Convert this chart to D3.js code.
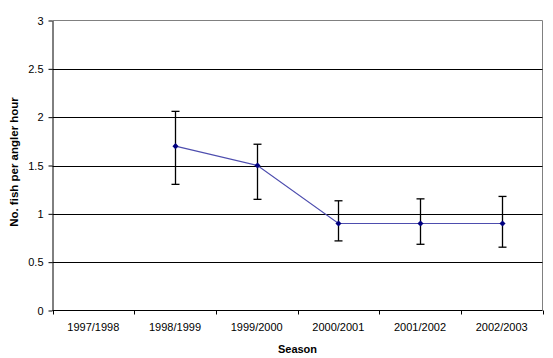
<html>
<head>
  <script src="https://d3js.org/d3.v7.min.js"></script>
  <style>
    body { margin: 0; background: #fff; }
    text { font-family: "Liberation Sans", Arial, sans-serif; }
  </style>
</head>
<body>
  <svg id="chart" width="553" height="358"></svg>
  <script>
    // data
    const seasons = ["1997/1998", "1998/1999", "1999/2000", "2000/2001", "2001/2002", "2002/2003"];
    const fishSeasons = ["1998/1999", "1999/2000", "2000/2001", "2001/2002", "2002/2003"];
    const fishPerHour = [1.7, 1.5, 0.9, 0.9, 0.9];
    const errUpper = [2.06, 1.72, 1.135, 1.155, 1.18];
    const errLower = [1.305, 1.15, 0.72, 0.685, 0.655];
    const yTicks = [0, 0.5, 1, 1.5, 2, 2.5, 3];

    const svg = d3.select("#chart");
    const plot = { left: 52.5, right: 542.5, top: 20.5, bottom: 310.5 };

    const x = d3.scaleBand().domain(seasons).range([plot.left, plot.right]);
    const y = d3.scaleLinear().domain([0, 3]).range([plot.bottom, plot.top]);

    // plot border (grey top & right)
    svg.append("path")
      .attr("d", `M${plot.left},${plot.top}H${plot.right}V${plot.bottom}`)
      .attr("fill", "none")
      .attr("stroke", "#808080")
      .attr("stroke-width", 1);

    // gridlines
    svg.selectAll("line.grid").data(yTicks.filter(d => d > 0 && d < 3))
      .join("line")
      .attr("class", "grid")
      .attr("x1", plot.left).attr("x2", plot.right)
      .attr("y1", d => Math.round(y(d)) + 0.5).attr("y2", d => Math.round(y(d)) + 0.5)
      .attr("stroke", "#000");

    // y axis
    const yAxis = d3.axisLeft(y).tickValues(yTicks).tickSize(4).tickSizeOuter(0)
      .tickFormat(d => String(d));
    const gy = svg.append("g")
      .attr("transform", `translate(${plot.left},0)`)
      .call(yAxis);
    gy.select(".domain").attr("stroke", "#000");
    gy.selectAll("text").attr("font-size", 11).attr("fill", "#000")
      .attr("font-family", "Liberation Sans, Arial, sans-serif").attr("x", -9);

    // x axis
    const gx = svg.append("g")
      .attr("transform", `translate(0,${plot.bottom})`);
    gx.append("line")
      .attr("x1", plot.left).attr("x2", plot.right)
      .attr("stroke", "#000");
    const bounds = seasons.map(s => x(s)).concat([plot.right]);
    gx.selectAll("line.tick").data(bounds)
      .join("line")
      .attr("class", "tick")
      .attr("x1", d => Math.round(d) + 0.5).attr("x2", d => Math.round(d) + 0.5)
      .attr("y1", 0).attr("y2", 4)
      .attr("stroke", "#000");
    gx.selectAll("text").data(seasons)
      .join("text")
      .attr("x", d => x(d) + x.bandwidth() / 2)
      .attr("y", 20)
      .attr("text-anchor", "middle")
      .attr("font-size", 11)
      .text(d => d);

    // axis titles
    svg.append("text")
      .attr("x", (plot.left + plot.right) / 2)
      .attr("y", 353)
      .attr("text-anchor", "middle")
      .attr("font-size", 11)
      .attr("font-weight", "bold")
      .text("Season");
    svg.append("text")
      .attr("transform", `translate(17.5,162) rotate(-90)`)
      .attr("text-anchor", "middle")
      .attr("font-size", 11.5)
      .attr("font-weight", "bold")
      .text("No. fish per angler hour");

    const cx = s => x(s) + x.bandwidth() / 2;

    // error bars
    const eb = svg.append("g").attr("stroke", "#000").attr("stroke-width", 1.3);
    fishSeasons.forEach((s, i) => {
      const px = Math.round(cx(s)) + 0.5;
      eb.append("line").attr("x1", px).attr("x2", px)
        .attr("y1", y(errUpper[i])).attr("y2", y(errLower[i]));
      [errUpper[i], errLower[i]].forEach(v => {
        eb.append("line").attr("x1", px - 4).attr("x2", px + 4)
          .attr("y1", y(v)).attr("y2", y(v));
      });
    });

    // line
    const line = d3.line().x((d, i) => Math.round(cx(fishSeasons[i])) + 0.5).y(d => y(d));
    svg.append("path")
      .attr("d", line(fishPerHour))
      .attr("fill", "none")
      .attr("stroke", "#4d4dae")
      .attr("stroke-width", 1.2);

    // markers
    svg.selectAll("path.marker").data(fishPerHour)
      .join("path")
      .attr("class", "marker")
      .attr("d", d3.symbol(d3.symbolDiamond2, 24))
      .attr("transform", (d, i) => `translate(${Math.round(cx(fishSeasons[i])) + 0.5},${y(d)})`)
      .attr("fill", "#000080");
  </script>
</body>
</html>
